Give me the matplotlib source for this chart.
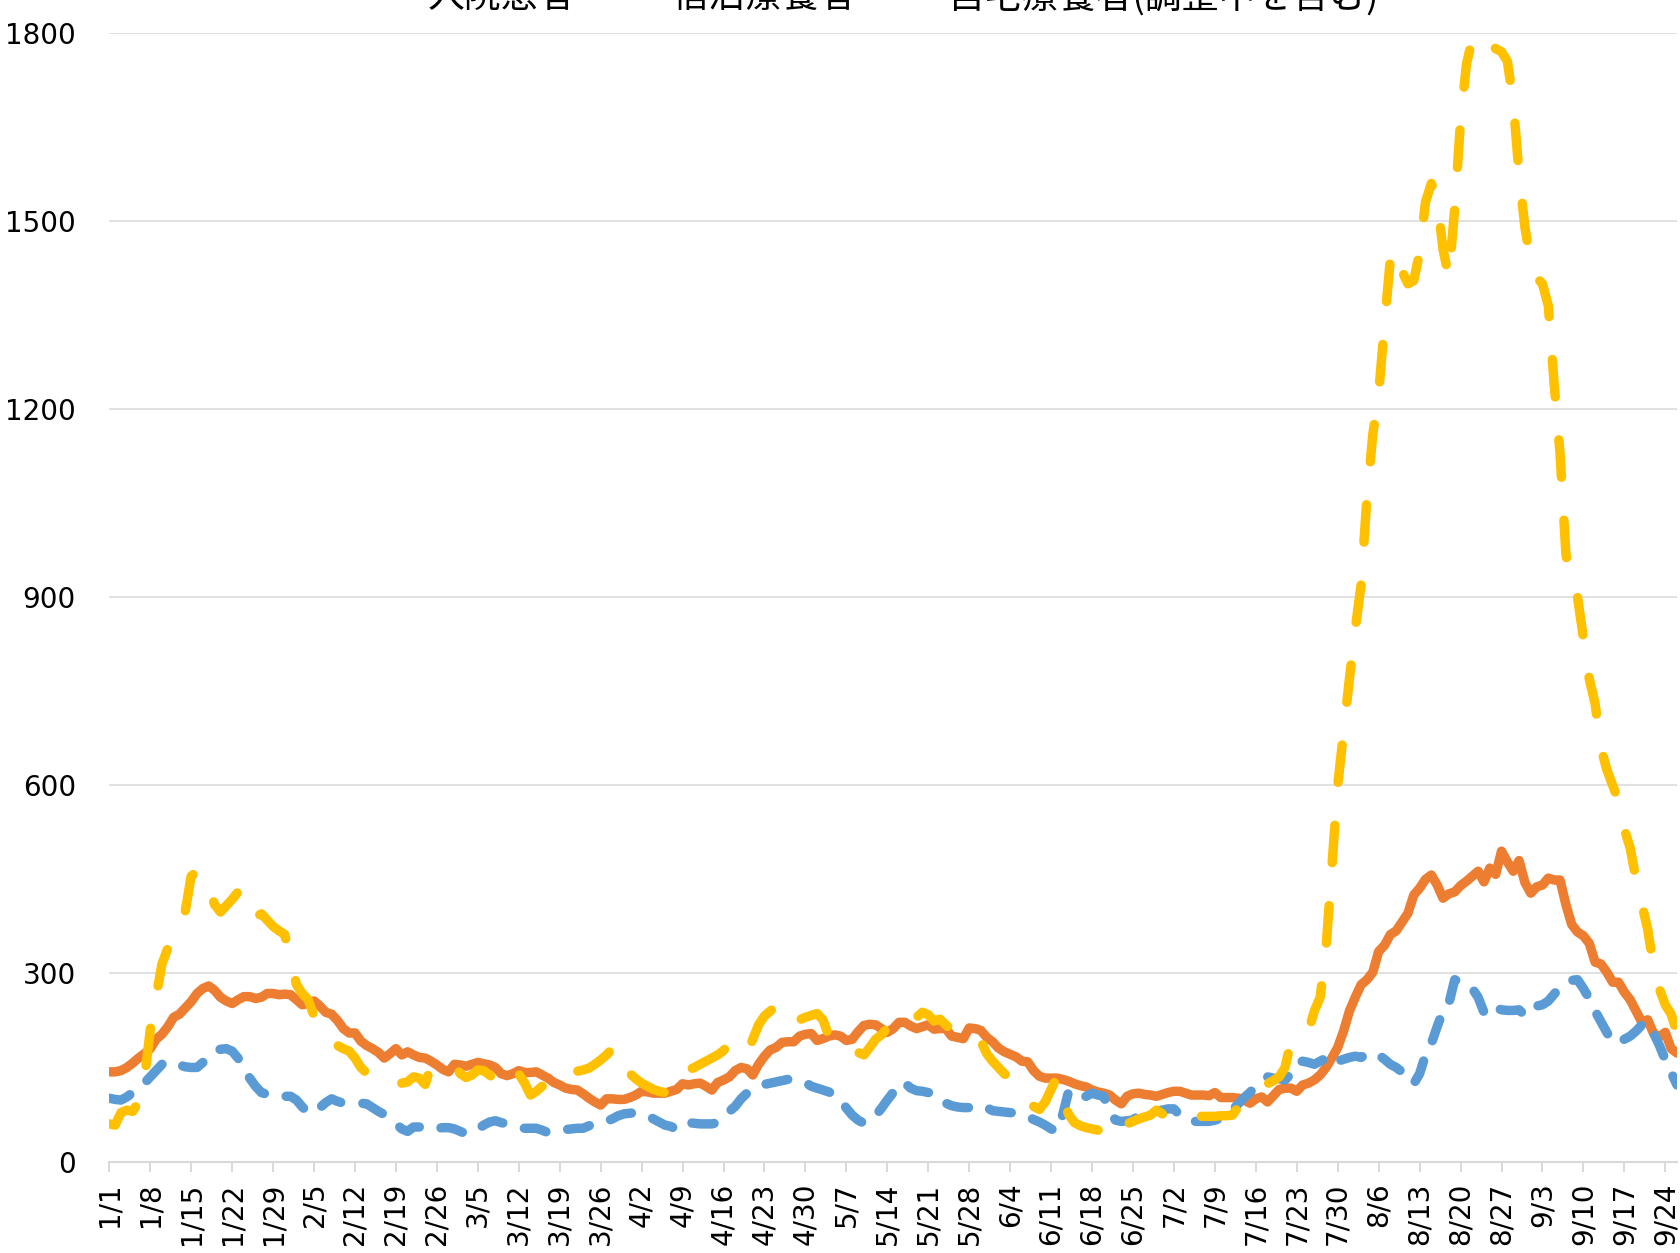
import numpy as np
import matplotlib
matplotlib.use("Agg")
import matplotlib.pyplot as plt

# ---------------- data (daily values, 1/1 .. 9/26) ----------------
series_names = ["入院患者", "宿泊療養者", "自宅療養者(調整中を含む)"]

hospitalized = [
    101, 99, 98, 103, 110, 118, 125,
    135, 145, 155, 160, 158, 154, 151,
    150, 150, 158, 170, 176, 179, 180,
    176, 165, 150, 133, 120, 110, 107,
    104, 104, 104, 104, 98, 87, 78,
    78, 86, 94, 100, 96, 93, 93,
    93, 93, 92, 86, 80, 75, 68,
    60, 52, 48, 55, 55, 51, 52,
    53, 54, 54, 52, 48, 44, 46,
    52, 58, 63, 65, 62, 60, 57,
    54, 53, 53, 53, 50, 46, 47,
    49, 51, 52, 53, 53, 57, 61,
    62, 64, 68, 73, 76, 77, 78,
    76, 73, 68, 63, 58, 56, 51,
    60, 62, 61, 60, 60, 60, 62,
    70, 80, 88, 100, 109, 112, 118,
    123, 125, 127, 129, 131, 131, 130,
    126, 120, 117, 114, 111, 106, 99,
    85, 74, 66, 61, 65, 73, 85,
    98, 110, 125, 125, 117, 113, 112,
    110, 109, 100, 93, 89, 87, 86,
    86, 88, 90, 86, 81, 80, 79,
    78, 77, 75, 72, 67, 63, 58,
    52, 48, 75, 112, 105, 101, 104,
    109, 106, 104, 80, 66, 64, 65,
    66, 74, 76, 77, 80, 82, 84,
    84, 74, 66, 64, 64, 64, 64,
    66, 69, 74, 82, 92, 102, 110,
    121, 130, 135, 133, 132, 130, 140,
    158, 160, 158, 155, 160, 165, 170,
    160, 163, 166, 168, 166, 172, 174,
    170, 163, 155, 150, 143, 130, 124,
    140, 170, 188, 215, 240, 252, 290,
    286, 284, 276, 262, 238, 250, 245,
    242, 241, 241, 242, 233, 235, 248,
    250, 256, 267, 278, 285, 289, 290,
    276, 260, 240, 223, 206, 190, 190,
    195, 200, 208, 218, 222, 205, 185,
    162, 142, 122,
]

hotel = [
    143, 143, 145, 150, 157, 165, 172,
    180, 195, 203, 215, 230, 235, 245,
    255, 268, 276, 280, 273, 262, 256,
    252, 258, 263, 263, 260, 262, 268,
    268, 266, 267, 266, 258, 250, 252,
    256, 248, 238, 235, 225, 212, 205,
    205, 192, 185, 180, 174, 165, 172,
    180, 170, 175, 170, 166, 165, 160,
    154, 147, 143, 155, 154, 152, 155,
    158, 156, 154, 150, 140, 137, 140,
    145, 142, 142, 143, 138, 133, 126,
    122, 117, 115, 114, 108, 101, 95,
    90, 100, 100, 99, 99, 102, 106,
    112, 111, 109, 109, 109, 112, 115,
    124, 122, 124, 125, 120, 114, 126,
    130, 135, 145, 150, 148, 138, 155,
    168, 178, 182, 190, 191, 191, 200,
    203, 204, 193, 196, 200, 202, 200,
    193, 195, 207, 217, 219, 218, 212,
    206, 212, 222, 222, 216, 212, 215,
    218, 211, 212, 212, 200, 198, 196,
    213, 212, 209, 198, 191, 181, 175,
    171, 167, 160, 159, 145, 136, 133,
    133, 133, 131, 128, 124, 121, 119,
    114, 111, 109, 106, 98, 92, 104,
    108, 109, 107, 106, 104, 107, 110,
    112, 112, 109, 106, 106, 106, 105,
    110, 102, 102, 102, 101, 98, 93,
    100, 103, 95, 105, 115, 117, 117,
    112, 122, 125, 130, 138, 150, 165,
    182, 208, 240, 262, 282, 290, 302,
    335, 345, 362, 368, 382, 396, 425,
    436, 450, 457, 441, 420, 427, 430,
    440, 447, 455, 463, 446, 468, 458,
    495, 478, 463, 480, 445, 428, 438,
    441, 452, 449, 449, 410, 378, 366,
    360, 348, 318, 315, 302, 286, 286,
    270, 258, 240, 222, 226, 204, 199,
    206, 180, 173,
]

home = [
    60, 58, 78, 82, 80, 95, 130,
    210, 262, 315, 340, 365, 385, 400,
    455, 463, 462, 435, 410, 398, 408,
    418, 430, 432, 428, 390, 395, 385,
    375, 368, 362, 320, 282, 268, 258,
    232, 208, 198, 190, 185, 180, 176,
    165, 150, 141, 127, 124, 123, 123,
    124, 125, 127, 135, 133, 123, 153,
    154, 154, 154, 155, 140, 134, 138,
    146, 145, 138, 130, 124, 119, 117,
    140, 125, 106, 112, 120, 128, 134,
    138, 140, 150, 144, 146, 149, 155,
    162, 170, 180, 152, 136, 140, 132,
    125, 120, 115, 112, 110, 133, 146,
    149, 146, 150, 155, 160, 165, 170,
    177, 188, 188, 180, 171, 195, 218,
    232, 240, 248, 230, 218, 222, 226,
    230, 233, 236, 226, 200, 183, 178,
    176, 175, 174, 170, 182, 195, 202,
    213, 222, 228, 234, 240, 230, 238,
    234, 224, 227, 218, 210, 204, 200,
    200, 202, 192, 172, 160, 150, 140,
    132, 120, 108, 100, 88, 83, 95,
    115, 135, 100, 75, 62, 57, 54,
    52, 50, 56, 40, 52, 55, 60,
    64, 68, 71, 74, 82, 76, 70,
    66, 75, 73, 72, 72, 72, 72,
    72, 73, 73, 74, 87, 101, 105,
    112, 118, 124, 129, 135, 150, 192,
    198, 204, 208, 240, 262, 340, 470,
    600, 685, 770, 850, 920, 1060, 1160,
    1225, 1335, 1440, 1455, 1420, 1400, 1405,
    1450, 1530, 1560, 1535, 1455, 1410, 1520,
    1660, 1750, 1790, 1800, 1790, 1785, 1775,
    1770, 1755, 1690, 1575, 1490, 1435, 1410,
    1400, 1365, 1240, 1130, 970, 908, 900,
    835, 770, 730, 660, 625, 600, 575,
    530, 500, 450, 410, 370, 310, 275,
    250, 235, 205,
]

tick_labels = ["1/1", "1/8", "1/15", "1/22", "1/29", "2/5", "2/12", "2/19",
               "2/26", "3/5", "3/12", "3/19", "3/26", "4/2", "4/9", "4/16",
               "4/23", "4/30", "5/7", "5/14", "5/21", "5/28", "6/4", "6/11",
               "6/18", "6/25", "7/2", "7/9", "7/16", "7/23", "7/30", "8/6",
               "8/13", "8/20", "8/27", "9/3", "9/10", "9/17", "9/24"]
y_ticks = [0, 300, 600, 900, 1200, 1500, 1800]

# ---------------- style ----------------
plt.rcParams["font.family"] = ["DejaVu Sans"]
plt.rcParams["lines.scale_dashes"] = False

C_BLUE = "#5B9BD5"
C_ORANGE = "#ED7D31"
C_YELLOW = "#FFC000"
GRID = "#D9D9D9"
LW = 6.8

fig = plt.figure(figsize=(16.8, 12.53), dpi=100)
ax = fig.add_axes([0.06506, 0.07302, 0.93315, 0.90064])

x = np.arange(len(hotel))

ax.plot(x, hotel, color=C_ORANGE, lw=LW, solid_capstyle="round",
        solid_joinstyle="round", zorder=2, label=series_names[1])
ax.plot(x, hospitalized, color=C_BLUE, lw=LW, dashes=(16, 16),
        dash_capstyle="round", dash_joinstyle="round", zorder=3,
        label=series_names[0])
ax.plot(x, home, color=C_YELLOW, lw=LW, dashes=(27, 31),
        dash_capstyle="round", dash_joinstyle="round", zorder=4,
        label=series_names[2])

ax.set_xlim(0, len(hotel) - 1)
ax.set_ylim(0, 1800)
ax.set_yticks(y_ticks)
ax.set_yticklabels([str(v) for v in y_ticks])
tick_pos = np.arange(0, len(tick_labels) * 7, 7)
ax.set_xticks(tick_pos)
ax.set_xticklabels(tick_labels, rotation=90)

ax.grid(axis="y", color=GRID, lw=1.1, zorder=0)
ax.set_axisbelow(True)
for s in ["left", "right", "top"]:
    ax.spines[s].set_visible(False)
ax.spines["bottom"].set_color(GRID)
ax.spines["bottom"].set_linewidth(1.5)

ax.tick_params(axis="y", length=0, pad=24, labelsize=20, colors="black")
ax.tick_params(axis="x", length=7.2, width=1.4, color=GRID, pad=8,
               labelsize=20, labelcolor="black", direction="out")

# legend (top, partially outside the figure as in the reference)
leg_font = ["Noto Sans CJK JP", "DejaVu Sans"]
leg_x = [428, 671, 948]
for name, px in zip(series_names, leg_x):
    fig.text(px / 1680, 1 - 7.4 / 1253, name, fontsize=26.6,
             family=leg_font, ha="left", va="baseline", color="black")

fig.savefig("out.png", dpi=100)
